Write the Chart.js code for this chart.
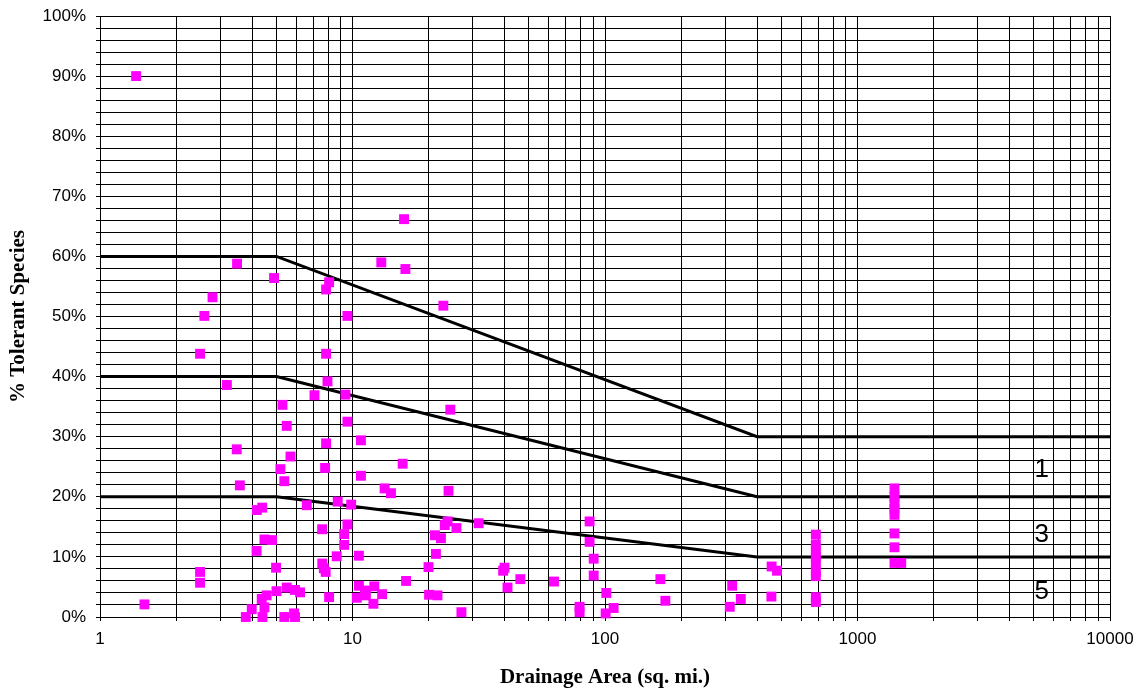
<!DOCTYPE html>
<html>
<head>
<meta charset="utf-8">
<script src="https://cdn.jsdelivr.net/npm/chart.js@4.4.1/dist/chart.umd.min.js"></script>
<style>
  html, body { margin: 0; padding: 0; background: #fff; }
  #wrap { width: 1141px; height: 694px; }
</style>
</head>
<body>
<div id="wrap"><canvas id="chart" width="1141" height="694"></canvas></div>
<script>
'use strict';

// ── Data ─────────────────────────────────────────────────────────────────────

// drainage area (sq. mi.) and share of tolerant species for each site
const siteArea = [
  1.39, 1.50, 2.49, 2.49, 2.49, 2.59, 2.79, 3.18, 3.48, 3.49, 3.58, 3.78,
  3.99, 4.17, 4.18, 4.37, 4.39, 4.40, 4.48, 4.48, 4.57, 4.80, 4.89, 4.98,
  5.00, 5.18, 5.28, 5.37, 5.37, 5.49, 5.49, 5.68, 5.87, 5.92, 5.92, 6.20,
  6.59, 7.07, 7.58, 7.59, 7.70, 7.83, 7.79, 7.86, 7.86, 7.86, 7.96, 8.08,
  8.08, 8.66, 8.74, 9.27, 9.27, 9.38, 9.55, 9.55, 9.55, 9.88,
  10.4, 10.6, 10.6, 10.8, 10.8, 11.2, 11.3, 12.1, 12.2, 13.0, 13.1, 13.4,
  14.2, 15.8, 16.0, 16.2, 16.3, 20.0, 20.1, 21.2, 21.4, 21.7, 22.4, 22.9,
  23.2, 23.8, 24.0, 24.4, 25.8, 27.0, 31.6, 39.5, 40.0, 41.1, 46.2,
  62.8, 79.3, 79.3, 86.9, 86.9, 90.2, 90.2, 100.6, 101.2, 108.2, 165.7, 173.4,
  312, 319, 345, 456, 457, 480,
  684, 684, 684, 684, 684, 684, 684, 684, 684,
  1401, 1401, 1401, 1401, 1401, 1401, 1401, 1401, 1490
];
const siteTolerant = [
  0.90, 0.021, 0.438, 0.075, 0.057, 0.501, 0.532, 0.386, 0.279, 0.588, 0.219, 0.0,
  0.013, 0.110, 0.178, 0.030, 0.182, 0.0, 0.129, 0.016, 0.036, 0.128, 0.564, 0.082,
  0.043, 0.246, 0.353, 0.226, 0.0, 0.318, 0.049, 0.267, 0.006, 0.045, 0.0, 0.041,
  0.186, 0.369, 0.146, 0.089, 0.081, 0.075, 0.248, 0.545, 0.438, 0.289, 0.392, 0.557,
  0.033, 0.101, 0.192, 0.138, 0.120, 0.370, 0.501, 0.325, 0.154, 0.187,
  0.032, 0.102, 0.052, 0.294, 0.235, 0.044, 0.036, 0.022, 0.051, 0.590, 0.038, 0.214,
  0.206, 0.255, 0.662, 0.579, 0.060, 0.083, 0.037, 0.136, 0.105, 0.036, 0.131, 0.518,
  0.153, 0.159, 0.210, 0.345, 0.148, 0.008, 0.156, 0.077, 0.082, 0.049, 0.063,
  0.059, 0.017, 0.008, 0.159, 0.125, 0.097, 0.069, 0.006, 0.040, 0.015, 0.063, 0.027,
  0.017, 0.052, 0.030, 0.034, 0.084, 0.077,
  0.137, 0.120, 0.110, 0.100, 0.090, 0.075, 0.068, 0.033, 0.025,
  0.214, 0.200, 0.190, 0.180, 0.170, 0.139, 0.116, 0.090, 0.090
];

// scoring thresholds (break points on drainage area)
const breakArea = [1, 5, 400, 10000];
const line1 = [0.60, 0.60, 0.30, 0.30];
const line3 = [0.40, 0.40, 0.20, 0.20];
const line5 = [0.20, 0.20, 0.10, 0.10];

const zoneLabels = ['1', '3', '5'];
const zoneLabelY = [0.245, 0.136, 0.042];
const zoneLabelArea = 5360;

const xTickLabels = [1, 10, 100, 1000, 10000];
const yTickLabels = [0, 10, 20, 30, 40, 50, 60, 70, 80, 90, 100];

// ── Helpers ──────────────────────────────────────────────────────────────────

const xGrid = [];
for (const d of [1, 10, 100, 1000]) {
  for (let m = 1; m < 10; m++) xGrid.push(d * m);
}
xGrid.push(10000);

const toPoints = (xs, ys) => xs.map((x, i) => ({ x, y: ys[i] }));

const thresholdLine = (ys) => ({
  data: toPoints(breakArea, ys),
  showLine: true,
  borderColor: '#000',
  borderWidth: 3,
  pointRadius: 0,
  fill: false,
  tension: 0,
});

const zoneLabelPlugin = {
  id: 'zoneLabels',
  afterDatasetsDraw(chart) {
    const { ctx, scales: { x, y } } = chart;
    ctx.save();
    ctx.font = '26px "Liberation Sans", Arial, sans-serif';
    ctx.fillStyle = '#000';
    ctx.textAlign = 'center';
    ctx.textBaseline = 'middle';
    zoneLabels.forEach((t, i) => {
      ctx.fillText(t, x.getPixelForValue(zoneLabelArea), y.getPixelForValue(zoneLabelY[i]));
    });
    ctx.restore();
  }
};

// ── Chart ────────────────────────────────────────────────────────────────────

Chart.defaults.font.family = '"Liberation Sans", Arial, sans-serif';
Chart.defaults.color = '#000';

const titleFont = { family: '"Liberation Serif", "Times New Roman", serif', size: 21, weight: 'bold' };

new Chart(document.getElementById('chart').getContext('2d'), {
  type: 'scatter',
  data: {
    datasets: [
      {
        data: toPoints(siteArea, siteTolerant),
        pointStyle: 'rect',
        pointRadius: 7,
        pointBorderWidth: 0,
        backgroundColor: '#ff00ff',
        borderColor: '#ff00ff',
        clip: false,
      },
      thresholdLine(line1),
      thresholdLine(line3),
      thresholdLine(line5),
    ],
  },
  options: {
    responsive: false,
    animation: false,
    events: [],
    layout: { padding: { top: 16, right: 31, left: 0, bottom: 0 } },
    plugins: {
      legend: { display: false },
      tooltip: { enabled: false },
    },
    scales: {
      x: {
        type: 'logarithmic',
        min: 1,
        max: 10000,
        afterBuildTicks: s => { s.ticks = xGrid.map(v => ({ value: v })); },
        afterFit: s => { s.height = 77; s.paddingLeft = 0; s.paddingRight = 0; },
        ticks: {
          autoSkip: false,
          maxRotation: 0,
          padding: 8,
          font: { size: 17 },
          callback: v => xTickLabels.includes(v) ? String(v) : '',
        },
        grid: { color: '#000', lineWidth: 1, tickLength: 4 },
        border: { color: '#000', width: 1 },
        title: {
          display: true,
          text: 'Drainage Area (sq. mi.)',
          font: titleFont,
          padding: { top: 0, bottom: 4 },
        },
      },
      y: {
        min: 0,
        max: 1,
        afterFit: s => { s.width = 100; s.paddingTop = 0; s.paddingBottom = 0; },
        ticks: {
          stepSize: 0.02,
          autoSkip: false,
          padding: 10,
          font: { size: 17 },
          callback: v => {
            const p = Math.round(v * 100);
            return yTickLabels.includes(p) ? p + '%' : '';
          },
        },
        grid: { color: '#000', lineWidth: 1, tickLength: 4 },
        border: { color: '#000', width: 1 },
        title: {
          display: true,
          text: '% Tolerant Species',
          font: titleFont,
          padding: { top: 6, bottom: 0 },
        },
      },
    },
  },
  plugins: [zoneLabelPlugin],
});
</script>
</body>
</html>
